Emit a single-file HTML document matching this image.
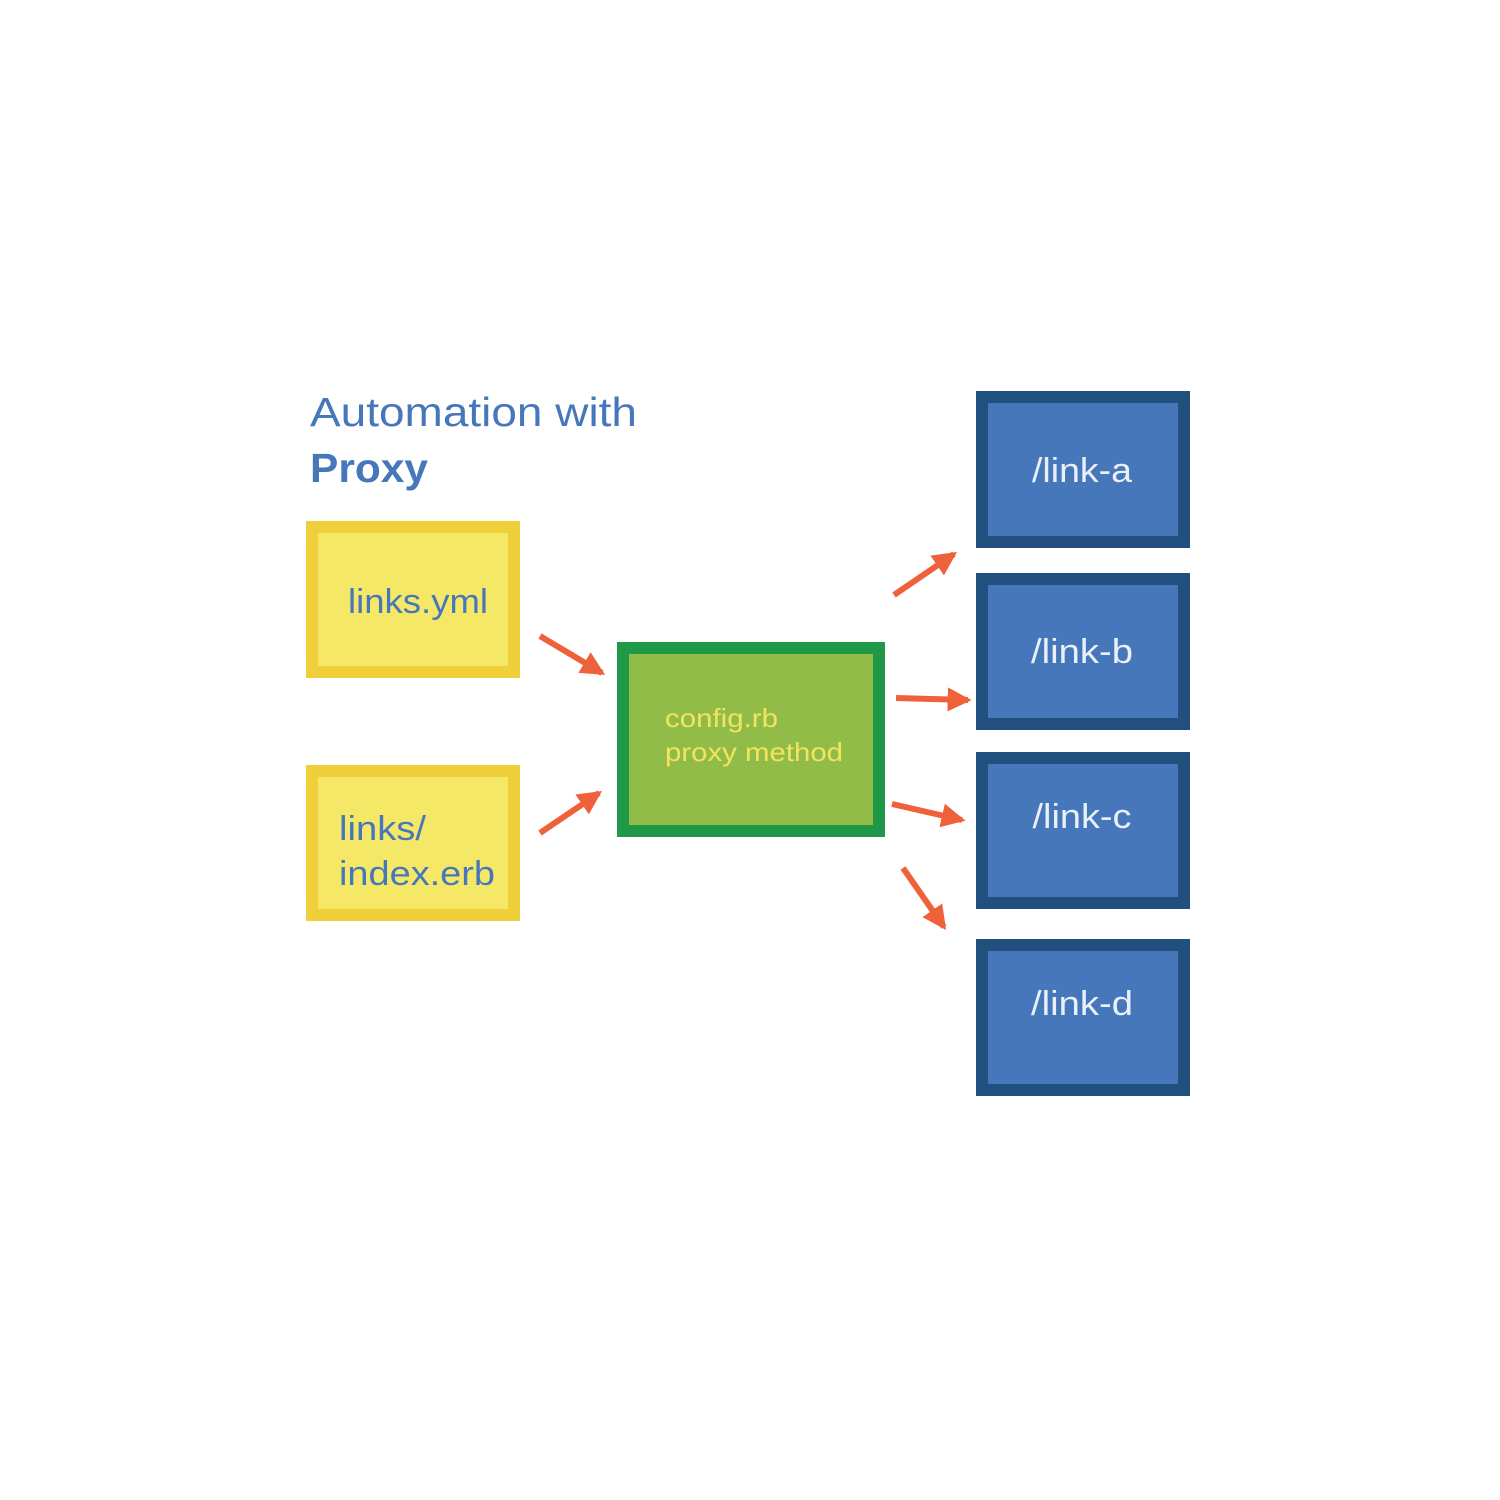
<!DOCTYPE html>
<html><head><style>body{margin:0;background:#fff}svg{display:block}</style></head>
<body>
<svg width="1500" height="1500" viewBox="0 0 1500 1500" xmlns="http://www.w3.org/2000/svg" font-family="Liberation Sans, sans-serif">
<defs><marker id="a" markerWidth="4" markerHeight="4" refX="3.4" refY="2" orient="auto" markerUnits="strokeWidth"><path d="M0,0 L4,2 L0,4 z" fill="#ef613a"/></marker></defs>
<text x="310" y="426" font-size="41" fill="#4677bb" textLength="327" lengthAdjust="spacingAndGlyphs">Automation with</text>
<text x="310" y="482" font-size="41" font-weight="bold" fill="#4677bb" textLength="118" lengthAdjust="spacingAndGlyphs">Proxy</text>
<g stroke-width="12">
<rect x="312" y="527" width="202" height="145" fill="#f6e867" stroke="#f0d03a"/>
<rect x="312" y="771" width="202" height="144" fill="#f6e867" stroke="#f0d03a"/>
<rect x="623" y="648" width="256" height="183" fill="#92bc48" stroke="#1f9848"/>
<rect x="982" y="397" width="202" height="145" fill="#4677bb" stroke="#21507f"/>
<rect x="982" y="579" width="202" height="145" fill="#4677bb" stroke="#21507f"/>
<rect x="982" y="758" width="202" height="145" fill="#4677bb" stroke="#21507f"/>
<rect x="982" y="945" width="202" height="145" fill="#4677bb" stroke="#21507f"/>
</g>
<g font-size="34" fill="#4677bb" lengthAdjust="spacingAndGlyphs">
<text x="348" y="613" textLength="140" lengthAdjust="spacingAndGlyphs">links.yml</text>
<text x="339" y="840" textLength="87" lengthAdjust="spacingAndGlyphs">links/</text>
<text x="339" y="885" textLength="156" lengthAdjust="spacingAndGlyphs">index.erb</text>
</g>
<g font-size="26" fill="#f3e35f">
<text x="665" y="727" textLength="113" lengthAdjust="spacingAndGlyphs">config.rb</text>
<text x="665" y="761" textLength="178" lengthAdjust="spacingAndGlyphs">proxy method</text>
</g>
<g font-size="34" fill="#eaf0f8" text-anchor="middle">
<text x="1082" y="482" textLength="100" lengthAdjust="spacingAndGlyphs">/link-a</text>
<text x="1082" y="663" textLength="102" lengthAdjust="spacingAndGlyphs">/link-b</text>
<text x="1082" y="828" textLength="99" lengthAdjust="spacingAndGlyphs">/link-c</text>
<text x="1082" y="1015" textLength="102" lengthAdjust="spacingAndGlyphs">/link-d</text>
</g>
<g stroke="#ef613a" stroke-width="6" marker-end="url(#a)">
<line x1="540" y1="636" x2="602" y2="673"/>
<line x1="540" y1="833" x2="599" y2="793"/>
<line x1="894" y1="595" x2="954" y2="554"/>
<line x1="896" y1="698" x2="968" y2="700"/>
<line x1="892" y1="804" x2="962" y2="820"/>
<line x1="903" y1="868" x2="944" y2="927"/>
</g>
</svg>
</body></html>
